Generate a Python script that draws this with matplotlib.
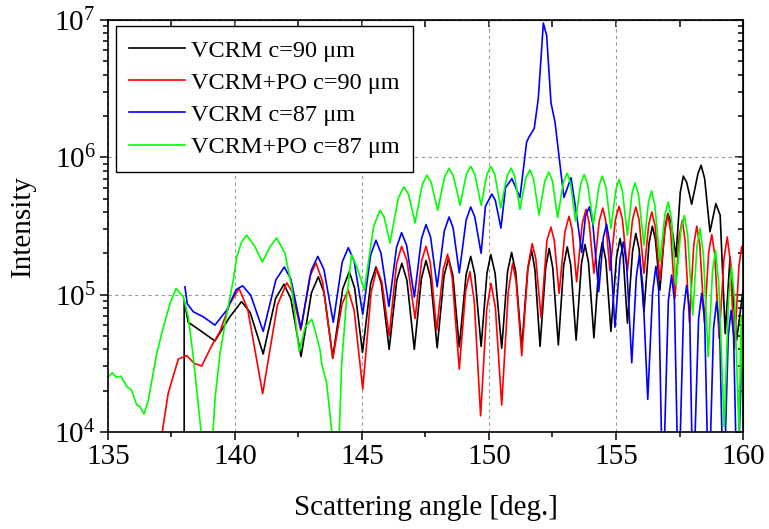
import matplotlib
matplotlib.use('Agg')
import matplotlib.pyplot as plt
from matplotlib.ticker import MultipleLocator, LogLocator, NullFormatter

plt.rcParams['font.family'] = ['Liberation Serif', 'DejaVu Serif']
plt.rcParams['mathtext.fontset'] = 'custom'
plt.rcParams['mathtext.rm'] = 'Liberation Serif'
plt.rcParams['mathtext.it'] = 'Liberation Serif:italic'
plt.rcParams['mathtext.bf'] = 'Liberation Serif:bold'

# curves: (scattering angle, intensity)
vcrm_90 = [
    (138.0, 1e3), (138.0, 9.1e4), (138.16, 6.3e4), (138.62, 5.5e4), (139.21, 4.6e4),
    (139.8, 6.9e4), (140.26, 8.9e4), (140.6, 7.4e4), (141.11, 3.7e4), (141.6, 9.4e4),
    (141.93, 1.19e5), (142.2, 9.3e4), (142.6, 3.54e4), (143.01, 1.03e5), (143.28, 1.35e5),
    (143.51, 1.03e5), (143.85, 3.47e4), (144.24, 1.1e5), (144.5, 1.47e5), (144.71, 1.12e5),
    (145.02, 3.8e4), (145.34, 1.2e5), (145.55, 1.59e5), (145.76, 1.21e5), (146.07, 4.0e4),
    (146.37, 1.27e5), (146.57, 1.69e5), (146.77, 1.27e5), (147.06, 4.0e4), (147.34, 1.31e5),
    (147.52, 1.77e5), (147.7, 1.32e5), (147.96, 4.1e4), (148.23, 1.37e5), (148.41, 1.84e5),
    (148.58, 1.37e5), (148.83, 4.15e4), (149.1, 1.4e5), (149.28, 1.9e5), (149.44, 1.41e5),
    (149.69, 4.2e4), (149.92, 1.43e5), (150.07, 1.96e5), (150.24, 1.43e5), (150.5, 4.07e4),
    (150.73, 1.47e5), (150.89, 2.03e5), (151.05, 1.47e5), (151.29, 4.1e4), (151.52, 1.51e5),
    (151.68, 2.1e5), (151.81, 1.51e5), (152.01, 4.2e4), (152.23, 1.56e5), (152.37, 2.17e5),
    (152.51, 1.57e5), (152.73, 4.3e4), (152.94, 1.63e5), (153.08, 2.23e5), (153.22, 1.63e5),
    (153.43, 4.67e4), (153.64, 1.68e5), (153.78, 2.32e5), (153.92, 1.7e5), (154.13, 4.85e4),
    (154.34, 1.75e5), (154.46, 2.42e5), (154.6, 1.78e5), (154.8, 5.4e4), (155.02, 1.87e5),
    (155.16, 2.56e5), (155.28, 1.93e5), (155.45, 6.2e4), (155.65, 2.06e5), (155.78, 2.79e5),
    (155.91, 2.14e5), (156.1, 7.5e4), (156.3, 2.37e5), (156.43, 3.15e5), (156.55, 2.54e5),
    (156.73, 1.08e5), (156.92, 3.0e5), (157.04, 3.9e5), (157.17, 3.37e5), (157.36, 1.88e5),
    (157.53, 5.56e5), (157.65, 7.3e5), (157.78, 6.6e5), (157.98, 4.55e5), (158.23, 7.66e5),
    (158.35, 8.75e5), (158.49, 7.0e5), (158.7, 2.87e5), (158.93, 4.6e5), (159.1, 3.8e5),
    (159.3, 5.2e4), (159.49, 1.88e5), (159.75, 4.67e4), (160.0, 1.08e5),
]

vcrm_po_90 = [
    (137.1, 9e3), (137.37, 1.91e4), (137.77, 3.4e4), (138.1, 3.6e4), (138.4, 3.16e4),
    (138.69, 3.02e4), (139.06, 4.17e4), (139.41, 5.4e4), (139.8, 8.6e4), (140.16, 1.11e5),
    (140.5, 7.85e4), (141.09, 1.9e4), (141.67, 8.4e4), (142.04, 1.22e5), (142.26, 1.04e5),
    (142.59, 5.5e4), (142.95, 1.36e5), (143.19, 1.7e5), (143.45, 1.24e5), (143.85, 3.43e4),
    (144.22, 8.6e4), (144.46, 1.08e5), (144.69, 7.7e4), (145.03, 2.05e4), (145.36, 1.04e5),
    (145.58, 1.55e5), (145.78, 1.24e5), (146.07, 5.0e4), (146.36, 1.67e5), (146.56, 2.25e5),
    (146.77, 1.77e5), (147.09, 6.7e4), (147.35, 1.77e5), (147.52, 2.25e5), (147.69, 1.7e5),
    (147.94, 5.5e4), (148.2, 1.53e5), (148.37, 1.97e5), (148.55, 1.34e5), (148.83, 2.87e4),
    (149.08, 1.06e5), (149.25, 1.47e5), (149.42, 9.0e4), (149.67, 1.31e4), (149.91, 7.8e4),
    (150.08, 1.21e5), (150.25, 8.1e4), (150.5, 1.57e4), (150.76, 1.05e5), (150.93, 1.69e5),
    (151.07, 1.24e5), (151.29, 3.59e4), (151.54, 1.62e5), (151.7, 2.35e5), (151.84, 1.84e5),
    (152.05, 6.8e4), (152.28, 2.48e5), (152.44, 3.1e5), (152.57, 2.48e5), (152.76, 1.02e5),
    (152.99, 2.87e5), (153.15, 3.72e5), (153.27, 2.99e5), (153.45, 1.24e5), (153.67, 3.28e5),
    (153.82, 4.19e5), (153.94, 3.37e5), (154.13, 1.43e5), (154.34, 3.44e5), (154.48, 4.27e5),
    (154.59, 3.5e5), (154.76, 1.5e5), (154.98, 3.56e5), (155.12, 4.4e5), (155.25, 3.56e5),
    (155.45, 1.5e5), (155.65, 3.52e5), (155.78, 4.35e5), (155.91, 3.5e5), (156.1, 1.43e5),
    (156.29, 3.26e5), (156.41, 4.0e5), (156.54, 3.18e5), (156.73, 1.27e5), (156.92, 2.9e5),
    (157.04, 3.85e5), (157.15, 2.9e5), (157.32, 9.4e4), (157.49, 2.68e5), (157.61, 3.48e5),
    (157.72, 2.48e5), (157.89, 6.3e4), (158.06, 2.29e5), (158.18, 3.15e5), (158.3, 2.29e5),
    (158.48, 6.3e4), (158.65, 2.05e5), (158.77, 2.74e5), (158.89, 1.94e5), (159.06, 4.8e4),
    (159.25, 1.82e5), (159.38, 2.63e5), (159.49, 1.81e5), (159.66, 4.07e4), (159.84, 1.61e5),
    (159.95, 2.25e5), (160.0, 2.1e5),
]

vcrm_87 = [
    (138.03, 1.14e5), (138.12, 8.6e4), (138.36, 7.5e4), (138.75, 6.9e4), (139.21, 6.0e4),
    (139.67, 7.7e4), (140.05, 1.09e5), (140.3, 1.16e5), (140.62, 9.9e4), (141.11, 5.4e4),
    (141.61, 1.28e5), (141.94, 1.59e5), (142.2, 1.3e5), (142.6, 5.7e4), (143.0, 1.5e5),
    (143.26, 1.9e5), (143.5, 1.53e5), (143.87, 6.3e4), (144.22, 1.72e5), (144.46, 2.2e5),
    (144.69, 1.76e5), (145.03, 7.2e4), (145.34, 1.94e5), (145.55, 2.49e5), (145.75, 2.0e5),
    (146.06, 8.2e4), (146.36, 2.21e5), (146.56, 2.83e5), (146.76, 2.28e5), (147.06, 9.6e4),
    (147.34, 2.54e5), (147.52, 3.24e5), (147.7, 2.63e5), (147.96, 1.14e5), (148.24, 2.91e5),
    (148.43, 3.68e5), (148.59, 3.05e5), (148.83, 1.44e5), (149.1, 3.49e5), (149.28, 4.35e5),
    (149.44, 3.68e5), (149.69, 2.0e5), (149.86, 4.4e5), (150.11, 5.4e5), (150.25, 4.86e5),
    (150.47, 3.05e5), (150.65, 6.0e5), (150.9, 7.0e5), (151.22, 5.1e5), (151.48, 1.29e6),
    (151.57, 1.4e6), (151.78, 1.62e6), (151.94, 2.67e6), (152.14, 9.5e6), (152.27, 7.7e6),
    (152.44, 2.5e6), (152.6, 1.8e6), (152.8, 8.7e5), (152.95, 5.1e5), (153.23, 7.1e5),
    (153.45, 3.8e5), (153.65, 2.03e5), (153.8, 3.74e5), (153.95, 4.35e5), (154.09, 3.27e5),
    (154.32, 1.05e5), (154.5, 2.6e5), (154.63, 3.26e5), (154.76, 2.31e5), (154.96, 5.8e4),
    (155.16, 1.82e5), (155.29, 2.42e5), (155.42, 1.62e5), (155.62, 3.19e4), (155.8, 1.35e5),
    (155.92, 1.94e5), (156.05, 1.19e5), (156.25, 1.73e4), (156.44, 1.03e5), (156.57, 1.61e5),
    (156.68, 1.08e5), (156.84, 3e3), (157.06, 9.0e4), (157.19, 1.39e5), (157.3, 9.0e4),
    (157.46, 3e3), (157.66, 7.6e4), (157.78, 1.17e5), (157.9, 7.6e4), (158.03, 3e3),
    (158.25, 6.6e4), (158.37, 1.02e5), (158.49, 6.6e4), (158.65, 3e3), (158.84, 5.7e4),
    (158.96, 8.9e4), (159.08, 5.7e4), (159.23, 3e3), (159.42, 5.0e4), (159.53, 7.7e4),
    (159.63, 5.0e4), (159.77, 3e3), (160.0, 7e4),
]

vcrm_po_87 = [
    (135.0, 2.5e4), (135.17, 2.7e4), (135.34, 2.5e4), (135.51, 2.55e4), (135.74, 2.14e4),
    (135.93, 2.02e4), (136.13, 1.57e4), (136.26, 1.53e4), (136.42, 1.35e4), (136.59, 1.71e4),
    (136.92, 3.73e4), (137.18, 5.8e4), (137.44, 8.6e4), (137.68, 1.11e5), (137.97, 9.6e4),
    (138.16, 6.9e4), (138.36, 3.5e4), (138.56, 1.53e4), (138.72, 8e3), (138.95, 5e3),
    (139.12, 9e3), (139.21, 1.71e4), (139.41, 3.73e4), (139.63, 6.5e4), (139.93, 1.27e5),
    (140.07, 1.88e5), (140.25, 2.4e5), (140.46, 2.71e5), (140.79, 2.23e5), (141.08, 1.73e5),
    (141.38, 2.23e5), (141.64, 2.59e5), (141.97, 2.0e5), (142.23, 1.14e5), (142.53, 3.84e4),
    (142.76, 5.8e4), (143.02, 6.6e4), (143.15, 5.5e4), (143.35, 3.95e4), (143.41, 3.16e4),
    (143.61, 2.26e4), (143.8, 1.05e4), (143.95, 5e3), (144.1, 9e3), (144.2, 3.16e4),
    (144.4, 9.6e4), (144.59, 1.95e5), (144.8, 1.59e5), (145.09, 1.08e5), (145.46, 3.14e5),
    (145.71, 4.12e5), (145.87, 3.69e5), (146.1, 2.38e5), (146.43, 5.05e5), (146.65, 6.1e5),
    (146.83, 5.4e5), (147.09, 3.33e5), (147.37, 6.3e5), (147.55, 7.4e5), (147.72, 6.6e5),
    (147.98, 4.12e5), (148.25, 7.2e5), (148.43, 8.3e5), (148.6, 7.3e5), (148.86, 4.48e5),
    (149.11, 7.55e5), (149.28, 8.6e5), (149.44, 7.55e5), (149.69, 4.48e5), (149.92, 7.55e5),
    (150.07, 8.6e5), (150.23, 7.5e5), (150.46, 4.27e5), (150.71, 7.3e5), (150.87, 8.35e5),
    (151.01, 7.3e5), (151.22, 4.17e5), (151.45, 7.1e5), (151.61, 8.1e5), (151.75, 7.0e5),
    (151.97, 3.8e5), (152.2, 6.76e5), (152.36, 7.8e5), (152.5, 6.7e5), (152.7, 3.64e5),
    (152.93, 6.6e5), (153.08, 7.65e5), (153.21, 6.5e5), (153.41, 3.43e5), (153.61, 6.4e5),
    (153.75, 7.5e5), (153.89, 6.3e5), (154.11, 3.24e5), (154.33, 6.2e5), (154.46, 7.3e5),
    (154.6, 6.1e5), (154.8, 3.03e5), (155.0, 5.85e5), (155.12, 6.9e5), (155.25, 5.7e5),
    (155.45, 2.71e5), (155.63, 5.46e5), (155.75, 6.5e5), (155.89, 5.3e5), (156.1, 2.29e5),
    (156.28, 4.74e5), (156.4, 5.7e5), (156.53, 4.49e5), (156.73, 1.73e5), (156.93, 3.87e5),
    (157.06, 4.73e5), (157.18, 3.57e5), (157.36, 1.17e5), (157.56, 2.99e5), (157.69, 3.78e5),
    (157.82, 2.71e5), (158.02, 7.1e4), (158.19, 2.27e5), (158.31, 3.03e5), (158.44, 1.97e5),
    (158.63, 3.53e4), (158.8, 1.48e5), (158.92, 2.11e5), (159.05, 1.17e5), (159.26, 1.09e4),
    (159.43, 9.3e4), (159.55, 1.59e5), (159.67, 9.1e4), (159.84, 1.01e4), (159.93, 7e4),
    (160.0, 1.2e4),
]

labels = ['VCRM c=90 μm', 'VCRM+PO c=90 μm', 'VCRM c=87 μm', 'VCRM+PO c=87 μm']
colors = ['black', 'red', 'blue', '#00ff00']
series = [vcrm_90, vcrm_po_90, vcrm_87, vcrm_po_87]

fig = plt.figure(figsize=(7.69, 5.29), dpi=100)
ax = fig.add_axes([0.1404, 0.1834, 0.8258, 0.7788])

for pts, lab, col in zip(series, labels, colors):
    xs, ys = zip(*pts)
    ax.plot(xs, ys, color=col, lw=1.2, label=lab, solid_joinstyle='round')

ax.set_yscale('log')
ax.set_xlim(135, 160)
ax.set_ylim(1e4, 1e7)

ax.xaxis.set_major_locator(MultipleLocator(5))
ax.xaxis.set_minor_locator(MultipleLocator(2.5))
ax.yaxis.set_major_locator(LogLocator(base=10, numticks=10))
ax.yaxis.set_minor_locator(LogLocator(base=10, subs=range(2, 10), numticks=20))
ax.yaxis.set_minor_formatter(NullFormatter())

ax.grid(True, which='major', color='#999999', ls=(0, (3, 3)), lw=0.8)
ax.set_axisbelow(True)

for s in ax.spines.values():
    s.set_linewidth(1.2)
ax.tick_params(which='both', direction='out', labelsize=21, width=1.1, pad=3)
ax.tick_params(which='major', length=6)
ax.tick_params(which='minor', length=3.5)

# inward ticks on the top and right edges
top = ax.secondary_xaxis('top')
top.xaxis.set_major_locator(MultipleLocator(2.5))
top.tick_params(direction='in', length=5, width=1.1, labeltop=False)
right = ax.secondary_yaxis('right')
right.yaxis.set_major_locator(LogLocator(base=10, numticks=10))
right.yaxis.set_minor_locator(LogLocator(base=10, subs=range(2, 10), numticks=20))
right.tick_params(which='both', direction='in', width=1.1, labelright=False)
right.tick_params(which='major', length=6)
right.tick_params(which='minor', length=3.5)

ax.set_xlabel('Scattering angle [deg.]', fontsize=21, labelpad=18)
ax.set_ylabel('Intensity', fontsize=21, labelpad=13)

leg = ax.legend(loc='upper left', bbox_to_anchor=(0.012, 0.985), borderaxespad=0,
                fontsize=17.5, frameon=True, fancybox=False, framealpha=1,
                edgecolor='black', handlelength=2.3, handletextpad=0.25,
                labelspacing=0.42, borderpad=0.55)
leg.get_frame().set_linewidth(1.0)

fig.savefig('out.png', dpi=100)
